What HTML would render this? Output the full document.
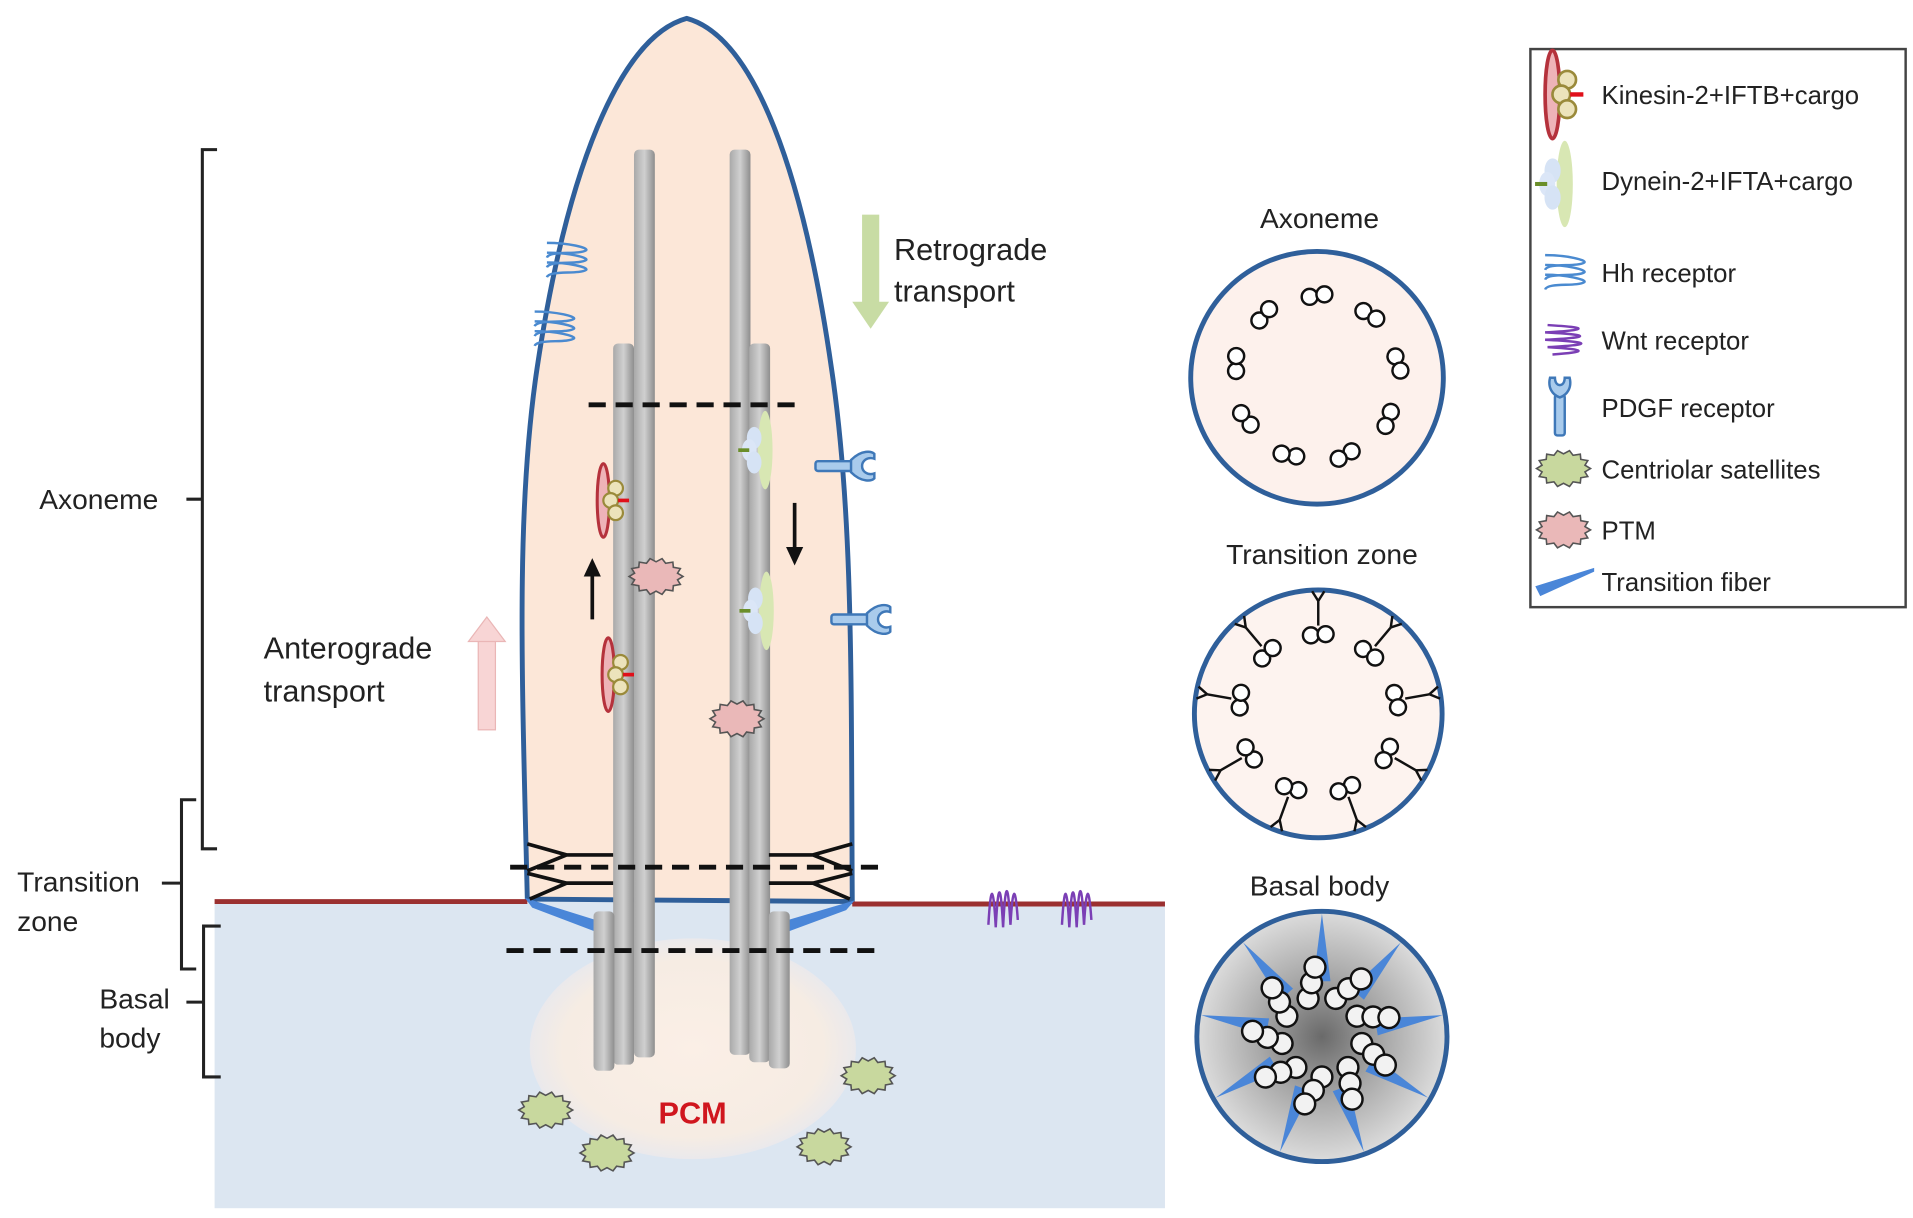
<!DOCTYPE html>
<html><head><meta charset="utf-8"><style>
html,body{margin:0;padding:0;background:#fff;}
svg{display:block;}
text{font-family:"Liberation Sans",Arial,sans-serif;fill:#222;}
</style></head><body>
<svg width="1913" height="1218" viewBox="0 0 1560 993" preserveAspectRatio="none" xmlns="http://www.w3.org/2000/svg">
<defs>
<linearGradient id="tube" x1="0" x2="1" y1="0" y2="0">
<stop offset="0" stop-color="#a9a9a9"/><stop offset="0.5" stop-color="#d0d0d0"/><stop offset="1" stop-color="#8e8e8e"/>
</linearGradient>
<radialGradient id="bbg" cx="0.5" cy="0.5" r="0.5">
<stop offset="0" stop-color="#6a6a6a"/><stop offset="0.5" stop-color="#a8a8a8"/><stop offset="1" stop-color="#dcdcdc"/>
</radialGradient>
<radialGradient id="pcm" cx="0.5" cy="0.5" r="0.5">
<stop offset="0" stop-color="#fbefe6"/><stop offset="0.8" stop-color="#f6ece3"/><stop offset="1" stop-color="#eae9ec"/>
</radialGradient>
<polygon id="star" points="22,0 17.5,2.7 19.8,6.5 14.1,7.5 13.7,11.7 7.8,10.8 4.9,14.6 0,12 -4.9,14.6 -7.8,10.8 -13.7,11.7 -14.1,7.5 -19.8,6.5 -17.5,2.7 -22,0 -17.5,-2.7 -19.8,-6.5 -14.1,-7.5 -13.7,-11.7 -7.8,-10.8 -4.9,-14.6 0,-12 4.9,-14.6 7.8,-10.8 13.7,-11.7 14.1,-7.5 19.8,-6.5 17.5,-2.7"/>
<g id="kin">
<ellipse cx="0" cy="0" rx="5" ry="30" fill="#eeb3b8" stroke="#b5323c" stroke-width="2.5"/>
<circle cx="10" cy="-10" r="6" fill="#ece3bb" stroke="#9a8a3a" stroke-width="1.8"/>
<circle cx="6" cy="0" r="6" fill="#ece3bb" stroke="#9a8a3a" stroke-width="1.8"/>
<circle cx="10" cy="10" r="6" fill="#ece3bb" stroke="#9a8a3a" stroke-width="1.8"/>
<line x1="12" y1="0" x2="21" y2="0" stroke="#e0101a" stroke-width="3"/>
</g>
<g id="dyn">
<ellipse cx="0" cy="0" rx="6" ry="32" fill="#d8e7b3"/>
<ellipse cx="-9" cy="-10" rx="6" ry="9" fill="#d6e3f5"/>
<ellipse cx="-13" cy="0" rx="6" ry="9" fill="#dbe6f7"/>
<ellipse cx="-9" cy="10" rx="6" ry="9" fill="#d6e3f5"/>
<line x1="-22" y1="0" x2="-13" y2="0" stroke="#6a8e2a" stroke-width="3"/>
</g>
<g id="hh" fill="none" stroke="#4a8ad0" stroke-width="2">
<path d="M-16,-14 C2,-14 18,-10 16,-8 C10,-4 -14,-8 -16,-2"/>
<path d="M-16,-6 C2,-6 18,-2 16,0 C10,4 -14,0 -16,6"/>
<path d="M-16,2 C2,2 18,6 16,8 C10,12 -14,8 -16,14"/>
</g>
<g id="wnt" fill="none" stroke="#7b3fb5" stroke-width="2">
<path d="M-12,14 C-10,-20 -8,-20 -6,16 C-4,-22 -2,-22 0,16 C2,-24 4,-22 6,14 C8,-20 10,-18 12,10"/>
</g>
<g id="pdgf" fill="#a9cbec" stroke="#3f78b8" stroke-width="2">
<rect x="-32" y="-4" width="30" height="8" rx="2"/>
<path d="M-3,-5 C6,-14 14,-12 16,-10 L16,-6 C10,-8 6,-4 6,0 C6,4 10,8 16,6 L16,10 C14,12 6,14 -3,5 Z"/>
</g>
</defs>

<rect x="175" y="735" width="775" height="250" fill="#dce6f1"/>
<ellipse cx="565" cy="855" rx="133" ry="90" fill="url(#pcm)"/>

<path d="M430,733 C426,560 420,420 438,300 C462,140 505,30 560,15 C615,30 655,140 678,300 C696,420 694,560 695,735 Z" fill="#fce7d8" stroke="#2f5f9a" stroke-width="4"/>
<line x1="175" y1="735" x2="430" y2="735" stroke="#9b3030" stroke-width="4"/>
<line x1="695" y1="737" x2="950" y2="737" stroke="#9b3030" stroke-width="4"/>
<polygon points="428,732 492,752 492,762 434,740" fill="#4a86d8"/>
<polygon points="697,734 636,752 636,762 690,742" fill="#4a86d8"/>

<g fill="url(#tube)">
<rect x="517" y="122" width="17" height="740" rx="4"/>
<rect x="500" y="280" width="17" height="588" rx="4"/>
<rect x="484" y="743" width="17" height="130" rx="4"/>
<rect x="595" y="122" width="17" height="738" rx="4"/>
<rect x="611" y="280" width="17" height="586" rx="4"/>
<rect x="627" y="743" width="17" height="128" rx="4"/>
</g>

<g stroke="#111" stroke-width="3" fill="none">
<path d="M430,688 L462,697 L500,697 M462,697 L430,710 M430,712 L462,720 L500,720 M462,720 L432,733"/>
<path d="M695,688 L663,697 L627,697 M663,697 L695,710 M695,712 L663,720 L627,720 M663,720 L693,733"/>
</g>
<g stroke="#111" stroke-width="4" stroke-dasharray="14 8">
<line x1="480" y1="330" x2="652" y2="330"/>
<line x1="416" y1="707" x2="722" y2="707"/>
<line x1="413" y1="775" x2="720" y2="775"/>
</g>

<use href="#kin" x="492" y="408"/>
<use href="#kin" x="496" y="550"/>
<use href="#dyn" x="624" y="367"/>
<use href="#dyn" x="625" y="498"/>
<line x1="483" y1="505" x2="483" y2="468" stroke="#111" stroke-width="3"/>
<polygon points="476,470 490,470 483,455" fill="#111"/>
<line x1="648" y1="410" x2="648" y2="448" stroke="#111" stroke-width="3"/>
<polygon points="641,446 655,446 648,461" fill="#111"/>
<g fill="#eab8b8" stroke="#555" stroke-width="1.3">
<use href="#star" x="535" y="470"/>
<use href="#star" x="601" y="586"/>
</g>
<g fill="#c8d89e" stroke="#555" stroke-width="1.3">
<use href="#star" x="445" y="905"/>
<use href="#star" x="495" y="940"/>
<use href="#star" x="708" y="877"/>
<use href="#star" x="672" y="935"/>
</g>
<use href="#hh" x="462" y="212"/>
<use href="#hh" x="452" y="268"/>
<use href="#pdgf" x="697" y="380"/>
<use href="#pdgf" x="710" y="505"/>
<use href="#wnt" x="818" y="740"/>
<use href="#wnt" x="878" y="740"/>

<rect x="703" y="175" width="14" height="72" fill="#c8dca4"/>
<polygon points="695,246 725,246 710,268" fill="#c8dca4"/>
<rect x="390" y="522" width="14" height="73" fill="#f8d5d5" stroke="#eab6b6" stroke-width="1"/>
<polygon points="382,523 412,523 397,503" fill="#f8d5d5" stroke="#eab6b6" stroke-width="1"/>
<text x="729" y="212" font-size="25">Retrograde</text>
<text x="729" y="246" font-size="25">transport</text>
<text x="215" y="537" font-size="25">Anterograde</text>
<text x="215" y="572" font-size="25">transport</text>
<text x="537" y="916" font-size="25" font-weight="bold" style="fill:#d0161e">PCM</text>

<g stroke="#222" stroke-width="2.5" fill="none">
<path d="M177,122 H165 V692 H177 M165,407 H152"/>
<path d="M160,652 H148 V790 H160 M148,720 H132"/>
<path d="M180,755 H166 V878 H180 M166,817 H152"/>
</g>
<text x="32" y="415" font-size="23">Axoneme</text>
<text x="14" y="727" font-size="23">Transition</text>
<text x="14" y="759" font-size="23">zone</text>
<text x="81" y="822" font-size="23">Basal</text>
<text x="81" y="854" font-size="23">body</text>

<text x="1076" y="186" font-size="23" text-anchor="middle">Axoneme</text>
<circle cx="1074" cy="308" r="103" fill="#fdf1ec" stroke="#2f5f9a" stroke-width="4"/>
<g fill="#fff" stroke="#111" stroke-width="2">
<g id="ap"><circle cx="1068" cy="242" r="6.5"/><circle cx="1080" cy="240" r="6.5"/></g>
<use href="#ap" transform="rotate(40 1074 308)"/>
<use href="#ap" transform="rotate(80 1074 308)"/>
<use href="#ap" transform="rotate(120 1074 308)"/>
<use href="#ap" transform="rotate(160 1074 308)"/>
<use href="#ap" transform="rotate(200 1074 308)"/>
<use href="#ap" transform="rotate(240 1074 308)"/>
<use href="#ap" transform="rotate(280 1074 308)"/>
<use href="#ap" transform="rotate(320 1074 308)"/>
</g>

<text x="1078" y="460" font-size="23" text-anchor="middle">Transition zone</text>
<circle cx="1075" cy="582" r="101" fill="#fdf3ef" stroke="#2f5f9a" stroke-width="4"/>
<g fill="#fff" stroke="#111" stroke-width="2">
<g id="tp"><line x1="1075" y1="510" x2="1075" y2="490"/><line x1="1075" y1="490" x2="1070" y2="482"/><line x1="1075" y1="490" x2="1080" y2="482"/><circle cx="1069" cy="518" r="6.5"/><circle cx="1081" cy="517" r="6.5"/></g>
<use href="#tp" transform="rotate(40 1075 582)"/>
<use href="#tp" transform="rotate(80 1075 582)"/>
<use href="#tp" transform="rotate(120 1075 582)"/>
<use href="#tp" transform="rotate(160 1075 582)"/>
<use href="#tp" transform="rotate(200 1075 582)"/>
<use href="#tp" transform="rotate(240 1075 582)"/>
<use href="#tp" transform="rotate(280 1075 582)"/>
<use href="#tp" transform="rotate(320 1075 582)"/>
</g>

<text x="1076" y="730" font-size="23" text-anchor="middle">Basal body</text>
<circle cx="1078" cy="845" r="102" fill="url(#bbg)" stroke="#2f5f9a" stroke-width="4"/>
<g fill="#4a86d8">
<polygon id="sp" points="1071,800 1085,800 1078,745"/>
<use href="#sp" transform="rotate(40 1078 845)"/>
<use href="#sp" transform="rotate(80 1078 845)"/>
<use href="#sp" transform="rotate(120 1078 845)"/>
<use href="#sp" transform="rotate(160 1078 845)"/>
<use href="#sp" transform="rotate(200 1078 845)"/>
<use href="#sp" transform="rotate(240 1078 845)"/>
<use href="#sp" transform="rotate(280 1078 845)"/>
<use href="#sp" transform="rotate(320 1078 845)"/>
</g>
<g fill="#f2f2f2" stroke="#111" stroke-width="2" transform="rotate(20 1078 845)">
<g id="bt"><circle cx="1078" cy="812" r="8.5"/><circle cx="1085" cy="801" r="8.5"/><circle cx="1092" cy="790" r="8.5"/></g>
<use href="#bt" transform="rotate(40 1078 845)"/>
<use href="#bt" transform="rotate(80 1078 845)"/>
<use href="#bt" transform="rotate(120 1078 845)"/>
<use href="#bt" transform="rotate(160 1078 845)"/>
<use href="#bt" transform="rotate(200 1078 845)"/>
<use href="#bt" transform="rotate(240 1078 845)"/>
<use href="#bt" transform="rotate(280 1078 845)"/>
<use href="#bt" transform="rotate(320 1078 845)"/>
</g>

<rect x="1248" y="40" width="306" height="455" fill="#fff" stroke="#444" stroke-width="2"/>
<g transform="translate(1266,77) scale(1.2)"><use href="#kin"/></g>
<g transform="translate(1276,150) scale(1.1)"><use href="#dyn"/></g>
<use href="#hh" x="1276" y="222"/>
<use href="#wnt" x="1276" y="277" transform="rotate(90 1276 277)"/>
<g fill="#a9cbec" stroke="#3f78b8" stroke-width="2">
<rect x="1268" y="322" width="8" height="33" rx="2"/>
<path d="M1264,308 L1268,308 C1268,316 1276,316 1276,308 L1280,308 C1282,316 1278,322 1272,324 C1266,322 1262,316 1264,308 Z"/>
</g>
<g fill="#c8d89e" stroke="#555" stroke-width="1.3"><use href="#star" x="1275" y="382"/></g>
<g fill="#eab8b8" stroke="#555" stroke-width="1.3"><use href="#star" x="1275" y="432"/></g>
<polygon points="1252,478 1300,463 1300,466 1256,486" fill="#4a86d8"/>
<g font-size="21">
<text x="1306" y="85">Kinesin-2+IFTB+cargo</text>
<text x="1306" y="155">Dynein-2+IFTA+cargo</text>
<text x="1306" y="230">Hh receptor</text>
<text x="1306" y="285">Wnt receptor</text>
<text x="1306" y="340">PDGF receptor</text>
<text x="1306" y="390">Centriolar satellites</text>
<text x="1306" y="440">PTM</text>
<text x="1306" y="482">Transition fiber</text>
</g>
</svg>
</body></html>
